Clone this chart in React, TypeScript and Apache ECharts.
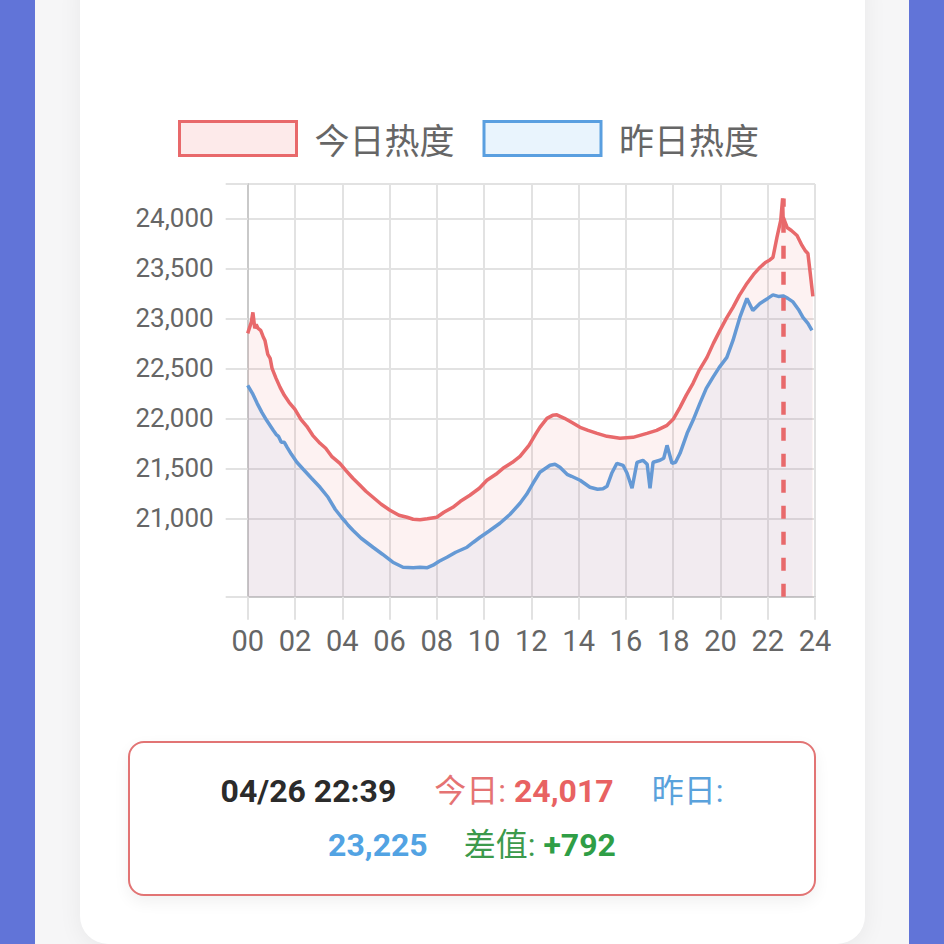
import React, { useEffect, useRef } from 'react';
import * as echarts from 'echarts';

// ---- data (hours of day, heat value) ----
const todayHours = [0, 0.15, 0.22, 0.3, 0.36, 0.44, 0.55, 0.65, 0.73, 0.85, 0.95, 1.03, 1.2, 1.37, 1.55, 1.75, 2.0, 2.25, 2.5, 2.75, 3.06, 3.3, 3.55, 3.9, 4.15, 4.45, 4.75, 5.0, 5.3, 5.65, 6.02, 6.4, 6.74, 7.0, 7.29, 7.6, 8.0, 8.3, 8.68, 9.0, 9.4, 9.8, 10.12, 10.5, 10.8, 11.2, 11.52, 11.9, 12.2, 12.36, 12.66, 12.9, 13.08, 13.4, 13.7, 14.06, 14.4, 14.78, 15.2, 15.75, 16.3, 16.89, 17.3, 17.74, 18.0, 18.29, 18.55, 18.84, 19.1, 19.43, 19.7, 19.98, 20.25, 20.53, 20.8, 21.12, 21.4, 21.67, 21.9, 22.09, 22.22, 22.39, 22.55, 22.63, 22.65, 22.82, 23.0, 23.24, 23.45, 23.58, 23.7, 23.8, 23.91];
const todayValues = [22850, 22960, 23060, 22900, 22940, 22900, 22880, 22820, 22780, 22640, 22600, 22500, 22400, 22310, 22230, 22160, 22090, 21990, 21920, 21830, 21750, 21700, 21620, 21550, 21480, 21400, 21330, 21270, 21210, 21140, 21080, 21030, 21010, 20990, 20985, 20995, 21010, 21060, 21110, 21170, 21230, 21300, 21380, 21440, 21500, 21560, 21620, 21730, 21850, 21910, 22000, 22030, 22035, 22000, 21960, 21910, 21880, 21850, 21820, 21800, 21810, 21850, 21880, 21930, 21990, 22110, 22230, 22350, 22480, 22610, 22750, 22880, 23000, 23110, 23230, 23350, 23440, 23510, 23560, 23585, 23610, 23810, 23980, 24200, 24017, 23910, 23880, 23830, 23730, 23680, 23650, 23450, 23220];

const yesterdayHours = [0, 0.2, 0.4, 0.6, 0.8, 1.08, 1.2, 1.3, 1.42, 1.55, 1.67, 1.85, 2.08, 2.35, 2.7, 3.06, 3.4, 3.7, 4.0, 4.15, 4.25, 4.45, 4.8, 5.3, 5.7, 6.14, 6.57, 7.0, 7.29, 7.6, 7.84, 8.1, 8.43, 8.8, 9.28, 9.55, 9.83, 10.2, 10.67, 11.1, 11.52, 11.8, 12.07, 12.36, 12.79, 13.0, 13.21, 13.51, 13.7, 14.06, 14.48, 14.8, 15.03, 15.2, 15.4, 15.62, 15.88, 16.05, 16.26, 16.47, 16.72, 16.9, 17.02, 17.15, 17.44, 17.6, 17.74, 17.95, 18.1, 18.29, 18.59, 18.84, 19.13, 19.4, 19.68, 19.95, 20.27, 20.53, 20.82, 21.12, 21.37, 21.67, 22.0, 22.22, 22.45, 22.65, 22.85, 23.07, 23.3, 23.49, 23.7, 23.87];
const yesterdayValues = [22330, 22250, 22150, 22060, 21980, 21880, 21840, 21820, 21760, 21760, 21710, 21640, 21560, 21490, 21400, 21310, 21210, 21090, 21000, 20960, 20930, 20880, 20800, 20710, 20640, 20560, 20510, 20505, 20510, 20505, 20530, 20570, 20610, 20660, 20710, 20760, 20810, 20870, 20950, 21040, 21150, 21240, 21350, 21460, 21530, 21540, 21510, 21440, 21420, 21380, 21310, 21290, 21295, 21320, 21450, 21550, 21530, 21450, 21300, 21560, 21580, 21540, 21300, 21560, 21580, 21600, 21730, 21550, 21560, 21650, 21850, 21980, 22150, 22300, 22410, 22510, 22610, 22780, 23010, 23200, 23080, 23150, 23200, 23235, 23220, 23225, 23200, 23165, 23090, 23010, 22950, 22880];

const seriesNames = ['今日热度', '昨日热度'];
const yLabelValues = [21000, 21500, 22000, 22500, 23000, 23500, 24000];
const yMin = 20215;
const yMax = 24345;
const markHour = 22.65;
const markTop = 24200;

const infoTime = '04/26 22:39';
const infoTodayLabel = '今日:';
const infoTodayValue = '24,017';
const infoYesterdayLabel = '昨日:';
const infoYesterdayValue = '23,225';
const infoDiffLabel = '差值:';
const infoDiffValue = '+792';

const RED = '#e8696b';
const BLUE = '#5a9fe0';
const GREEN = '#2f9e46';
const GRID = '#e2e2e2';
const AXIS = '#c9c9c9';

function pairs(h: number[], v: number[]) {
  return h.map((x, i) => [x, v[i]]);
}

function Chart() {
  const ref = useRef<HTMLDivElement>(null);
  useEffect(() => {
    if (!ref.current) return;
    const chart = echarts.init(ref.current, undefined, { renderer: 'svg' });
    const yTicks = [yMin, ...yLabelValues, yMax];
    chart.setOption({
      animation: false,
      legend: {
        left: 178,
        top: 120,
        padding: 0,
        itemWidth: 117,
        itemHeight: 34,
        itemGap: 28,
        icon: 'rect',
        selectedMode: false,
        textStyle: {
          fontSize: 35,
          color: '#666',
          fontFamily: '"Noto Sans CJK SC", sans-serif',
          padding: [0, 0, 0, 13],
        },
        data: [
          { name: seriesNames[0], itemStyle: { color: '#fdeaea', borderColor: RED, borderWidth: 3 } },
          { name: seriesNames[1], itemStyle: { color: '#e9f4fd', borderColor: BLUE, borderWidth: 3 } },
        ],
      },
      grid: {
        left: 247.7,
        top: 184,
        right: 129,
        bottom: 347.3,
        containLabel: false,
        outerBoundsMode: 'none',
      },
      xAxis: {
        type: 'value',
        min: 0,
        max: 24,
        interval: 2,
        axisLine: { show: true, onZero: false, lineStyle: { color: AXIS, width: 2 } },
        axisTick: { show: true, length: 23, lineStyle: { color: GRID, width: 2 } },
        splitLine: { show: true, lineStyle: { color: GRID, width: 2 } },
        axisLabel: {
          margin: 30,
          fontSize: 29,
          color: '#666',
          fontFamily: 'Roboto, sans-serif',
          formatter: (v: number) => String(v).padStart(2, '0'),
        },
      },
      yAxis: {
        type: 'value',
        min: yMin,
        max: yMax,
        axisLine: { show: true, lineStyle: { color: AXIS, width: 2 } },
        axisTick: { show: true, length: 22, customValues: yTicks, lineStyle: { color: GRID, width: 2 } },
        splitLine: { show: true, showMinLine: true, showMaxLine: true, lineStyle: { color: GRID, width: 2 } },
        axisLabel: {
          customValues: yLabelValues,
          margin: 34,
          fontSize: 26,
          color: '#666',
          fontFamily: 'Roboto, sans-serif',
          formatter: (v: number) => v.toLocaleString('en-US'),
        },
      },
      series: [
        {
          name: seriesNames[1],
          type: 'line',
          data: pairs(yesterdayHours, yesterdayValues),
          symbol: 'none',
          lineStyle: { color: BLUE, width: 3.5 },
          itemStyle: { color: BLUE },
          areaStyle: { color: 'rgba(90,160,230,0.1)', origin: 'start' },
          z: 2,
        },
        {
          name: seriesNames[0],
          type: 'line',
          data: pairs(todayHours, todayValues),
          symbol: 'none',
          lineStyle: { color: RED, width: 3.5 },
          itemStyle: { color: RED },
          areaStyle: { color: 'rgba(235,100,100,0.12)', origin: 'start' },
          z: 3,
          markLine: {
            silent: true,
            symbol: 'none',
            label: { show: false },
            lineStyle: { color: RED, width: 4.5, type: [13, 13] },
            data: [[{ coord: [markHour, yMin] }, { coord: [markHour, markTop] }]],
          },
        },
      ],
    });
    return () => chart.dispose();
  }, []);
  return <div ref={ref} style={{ position: 'absolute', left: 0, top: 0, width: 944, height: 944 }} />;
}

export default function App() {
  const infoFont = 'Roboto, "Noto Sans CJK SC", sans-serif';
  return (
    <div style={{ position: 'fixed', left: 0, top: 0, width: 944, height: 944, overflow: 'hidden', background: '#f6f6f7' }}>
      <div style={{ position: 'absolute', left: 0, top: 0, width: 35, height: 944, background: '#6174d8' }} />
      <div style={{ position: 'absolute', left: 909, top: 0, width: 35, height: 944, background: '#6174d8' }} />
      <div
        style={{
          position: 'absolute',
          left: 80,
          top: -40,
          width: 785,
          height: 984,
          background: '#ffffff',
          borderRadius: 28,
          boxShadow: '0 4px 24px rgba(0,0,0,0.06)',
        }}
      />
      <Chart />
      <div
        style={{
          position: 'absolute',
          left: 128,
          top: 741,
          width: 688,
          height: 155,
          boxSizing: 'border-box',
          border: '2px solid #e27474',
          borderRadius: 16,
          background: '#fff',
          boxShadow: '0 6px 16px rgba(0,0,0,0.06)',
          display: 'flex',
          flexDirection: 'column',
          justifyContent: 'center',
          alignItems: 'center',
          fontFamily: infoFont,
          fontSize: 32,
          lineHeight: '54px',
          paddingBottom: 2,
        }}
      >
        <div style={{ whiteSpace: 'nowrap' }}>
          <span style={{ color: '#2b2b2b', fontWeight: 700 }}>{infoTime}</span>
          <span style={{ color: '#e57373', marginLeft: 38 }}>{infoTodayLabel} </span>
          <span style={{ color: '#e86262', fontWeight: 700 }}>{infoTodayValue}</span>
          <span style={{ color: '#5aa2dc', marginLeft: 38 }}>{infoYesterdayLabel}</span>
        </div>
        <div style={{ whiteSpace: 'nowrap' }}>
          <span style={{ color: '#52a3e3', fontWeight: 700 }}>{infoYesterdayValue}</span>
          <span style={{ color: '#3c9a4c', marginLeft: 36 }}>{infoDiffLabel} </span>
          <span style={{ color: GREEN, fontWeight: 700 }}>{infoDiffValue}</span>
        </div>
      </div>
    </div>
  );
}
